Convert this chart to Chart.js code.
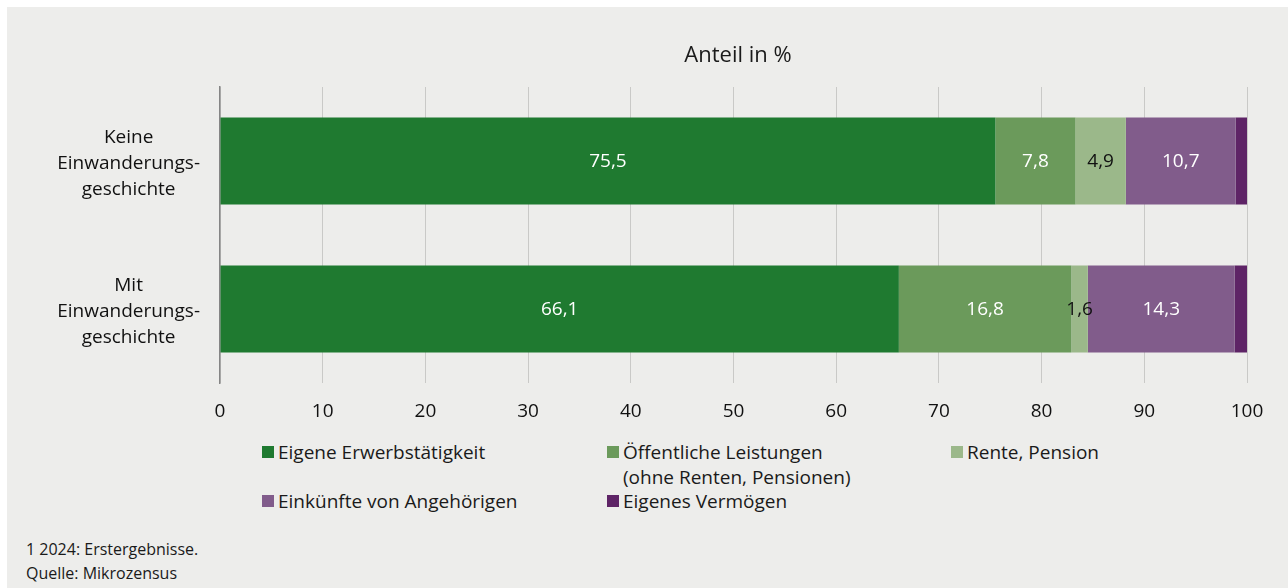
<!DOCTYPE html>
<html lang="de">
<head>
<meta charset="utf-8">
<script src="https://cdn.jsdelivr.net/npm/chart.js@4"></script>
<style>
  body { margin: 0; background: #fff; font-family: "Open Sans", sans-serif; color: #1a1a1a; }
  #box { position: absolute; left: 7px; top: 7px; width: 1281px; height: 581px; background: #ededeb; }
  #chart { position: absolute; left: 0; top: 0; }
  #titel { position: absolute; left: 581px; width: 300px; top: 31px; text-align: center; font-size: 22px; line-height: 30px; }
  .leg { position: absolute; font-size: 19px; line-height: 24.5px; padding-left: 16px; white-space: nowrap; }
  .leg i { position: absolute; left: 0; top: 6px; width: 12px; height: 12px; }
  .fuss { position: absolute; left: 19px; font-size: 16px; line-height: 22px; }
</style>
</head>
<body>
<div id="box">
  <canvas id="chart" width="1281" height="420"></canvas>
  <div id="titel">Anteil in %</div>
  <div id="legende"></div>
  <div class="fuss" style="top:531px">1 2024: Erstergebnisse.</div>
  <div class="fuss" style="top:555px">Quelle: Mikrozensus</div>
</div>
<script>
// Kategorien (Zeilen)
var kategorien = [["Keine", "Einwanderungs-", "geschichte"], ["Mit", "Einwanderungs-", "geschichte"]];

// Werte je Unterhaltsquelle, Anteil in %
var erwerb = [75.5, 66.1];
var oeffentlich = [7.8, 16.8];
var rente = [4.9, 1.6];
var angehoerige = [10.7, 14.3];
var vermoegen = [1.1, 1.2];

var serienNamen = ["Eigene Erwerbstätigkeit", "Öffentliche Leistungen\n(ohne Renten, Pensionen)", "Rente, Pension", "Einkünfte von Angehörigen", "Eigenes Vermögen"];
var farben = ["#1f7a30", "#6b9a5b", "#9bb88a", "#815c8b", "#5e2466"];
var labelFarben = ["#ffffff", "#ffffff", "#111111", "#ffffff", null];

var xTicks = [0, 10, 20, 30, 40, 50, 60, 70, 80, 90, 100];

var serien = [erwerb, oeffentlich, rente, angehoerige, vermoegen];

var datasets = [];
for (var i = 0; i < serien.length; i++) {
    datasets.push({
        label: serienNamen[i],
        data: serien[i],
        backgroundColor: farben[i],
        borderWidth: 0,
        barPercentage: 0.588,
        categoryPercentage: 1.0
    });
}

// eigene Werte-Beschriftung in der Mitte der Balken
const wertePlugin = {
    id: 'werte',
    afterDatasetsDraw(chart) {
        const ctx = chart.ctx;
        ctx.save();
        ctx.font = '19px "Open Sans", sans-serif';
        ctx.textAlign = 'center';
        ctx.textBaseline = 'middle';
        chart.data.datasets.forEach(function (ds, di) {
            if (!labelFarben[di]) return;
            const meta = chart.getDatasetMeta(di);
            meta.data.forEach(function (bar, j) {
                const p = bar.getProps(['x', 'base', 'y'], true);
                ctx.fillStyle = labelFarben[di];
                ctx.fillText(ds.data[j].toFixed(1).replace('.', ','), (p.x + p.base) / 2, p.y + 1);
            });
        });
        ctx.restore();
    }
};

const config = {
    type: 'bar',
    data: { labels: kategorien, datasets: datasets },
    options: {
        indexAxis: 'y',
        responsive: false,
        animation: false,
        devicePixelRatio: 1,
        layout: { padding: { top: 80, right: 41, left: 0, bottom: 0 } },
        plugins: { legend: { display: false }, tooltip: { enabled: false } },
        scales: {
            x: {
                stacked: true,
                min: 0,
                max: 100,
                afterBuildTicks: function (scale) {
                    scale.ticks = xTicks.map(function (v) { return { value: v }; });
                },
                afterFit: function (scale) { scale.height = 44; },
                grid: { color: '#c9c9c7', lineWidth: 1, drawTicks: false },
                border: { display: false },
                ticks: { color: '#111', padding: 17, font: { family: 'Open Sans', size: 19 } }
            },
            y: {
                stacked: true,
                afterFit: function (scale) {
                    scale.width = 213;
                    scale.paddingTop = 0;
                    scale.paddingBottom = 0;
                },
                grid: { display: false, drawTicks: false },
                border: { display: true, color: '#858585', width: 1.5 },
                ticks: {
                    color: '#111',
                    crossAlign: 'center',
                    padding: 20,
                    labelOffset: 3,
                    font: { family: 'Open Sans', size: 19, lineHeight: 1.37 }
                }
            }
        }
    },
    plugins: [wertePlugin]
};

new Chart(document.getElementById('chart'), config);

// Legende als HTML (zweizeiliger Eintrag)
var legPos = [[255, 433], [600, 433], [944, 433], [255, 482], [600, 482]];
var legende = document.getElementById('legende');
for (var k = 0; k < serienNamen.length; k++) {
    var el = document.createElement('div');
    el.className = 'leg';
    el.style.left = legPos[k][0] + 'px';
    el.style.top = legPos[k][1] + 'px';
    var sq = document.createElement('i');
    sq.style.background = farben[k];
    el.append(sq);
    el.innerHTML += serienNamen[k].replace('\n', '<br>');
    legende.append(el);
}
</script>
</body>
</html>
